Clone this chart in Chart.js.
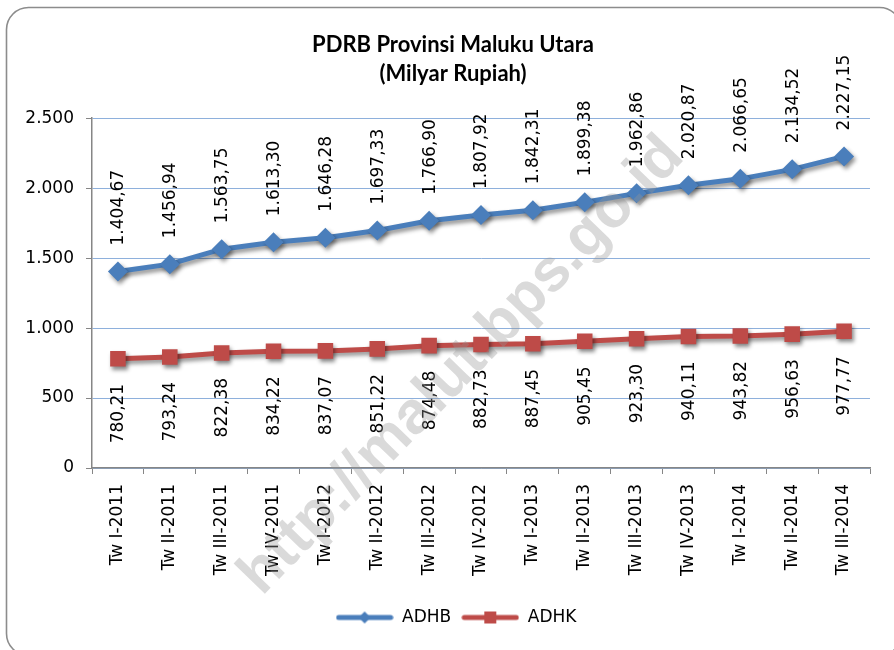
<!DOCTYPE html>
<html>
<head>
<meta charset="utf-8">
<script src="https://cdn.jsdelivr.net/npm/chart.js@4.4.0/dist/chart.umd.min.js"></script>
<style>
  html, body { margin: 0; padding: 0; background: #ffffff; }
  #wrap { width: 894px; height: 650px; }
</style>
</head>
<body>
<div id="wrap"><canvas id="chart" width="894" height="650"></canvas></div>
<script>
const labels = ['Tw I-2011', 'Tw II-2011', 'Tw III-2011', 'Tw IV-2011',
  'Tw I-2012', 'Tw II-2012', 'Tw III-2012', 'Tw IV-2012',
  'Tw I-2013', 'Tw II-2013', 'Tw III-2013', 'Tw IV-2013',
  'Tw I-2014', 'Tw II-2014', 'Tw III-2014'];
const adhb = [1404.67, 1456.94, 1563.75, 1613.30, 1646.28, 1697.33, 1766.90, 1807.92,
  1842.31, 1899.38, 1962.86, 2020.87, 2066.65, 2134.52, 2227.15];
const adhk = [780.21, 793.24, 822.38, 834.22, 837.07, 851.22, 874.48, 882.73,
  887.45, 905.45, 923.30, 940.11, 943.82, 956.63, 977.77];
const yTicks = [0, 500, 1000, 1500, 2000, 2500];

const blue = '#4a7ebb';
const red = '#be4b48';
const fontFamily = "'DejaVu Sans', Verdana, sans-serif";

// angka gaya Indonesia: 1.404,67
function fmt(v, dec) {
  var parts = v.toFixed(dec).split('.');
  parts[0] = parts[0].replace(/\B(?=(\d{3})+(?!\d))/g, '.');
  return parts.length > 1 ? parts[0] + ',' + parts[1] : parts[0];
}

function legendIcon(color, style) {
  var c = document.createElement('canvas');
  c.width = 58;
  c.height = 20;
  var ctx = c.getContext('2d');
  ctx.strokeStyle = color;
  ctx.lineWidth = 5;
  ctx.lineCap = 'round';
  ctx.beginPath();
  ctx.moveTo(3, 10);
  ctx.lineTo(55, 10);
  ctx.stroke();
  ctx.fillStyle = color;
  if (style == 'diamond') {
    ctx.beginPath();
    ctx.moveTo(29, 4);
    ctx.lineTo(35, 10);
    ctx.lineTo(29, 16);
    ctx.lineTo(23, 10);
    ctx.closePath();
    ctx.fill();
  } else {
    ctx.fillRect(23, 4, 12, 12);
  }
  return c;
}

const frame = {
  id: 'frame',
  afterLayout(chart) {
    // judul dan legenda di Excel sedikit ke kanan
    chart.titleBlock.left += 18;
    chart.titleBlock.right += 18;
    chart.legend.left += 21;
    chart.legend.right += 21;
  },
  beforeDraw(chart) {
    const ctx = chart.ctx;
    ctx.save();
    ctx.fillStyle = '#ffffff';
    ctx.fillRect(0, 0, chart.width, chart.height);
    ctx.strokeStyle = '#8c8c8c';
    ctx.lineWidth = 1.6;
    ctx.beginPath();
    ctx.roundRect(6.5, 7.5, 895, 648, 22);
    ctx.stroke();
    ctx.restore();
  }
};

const shadow = {
  id: 'shadow',
  beforeDatasetDraw(chart) {
    const ctx = chart.ctx;
    ctx.shadowColor = 'rgba(0,0,0,0.45)';
    ctx.shadowBlur = 4;
    ctx.shadowOffsetX = 2;
    ctx.shadowOffsetY = 3;
  },
  afterDatasetDraw(chart) {
    const ctx = chart.ctx;
    ctx.shadowColor = 'rgba(0,0,0,0)';
    ctx.shadowBlur = 0;
    ctx.shadowOffsetX = 0;
    ctx.shadowOffsetY = 0;
  }
};

const valueLabels = {
  id: 'valueLabels',
  afterDatasetsDraw(chart) {
    const ctx = chart.ctx;
    ctx.save();
    ctx.font = '17px ' + fontFamily;
    ctx.fillStyle = '#000000';
    ctx.textBaseline = 'middle';
    chart.data.datasets.forEach(function(ds, i) {
      const meta = chart.getDatasetMeta(i);
      meta.data.forEach(function(pt, j) {
        ctx.save();
        if (ds.labelPos == 'top') {
          ctx.translate(pt.x + 1, pt.y - 26);
          ctx.rotate(-Math.PI / 2);
          ctx.textAlign = 'left';
        } else {
          ctx.translate(pt.x + 1, pt.y + 25);
          ctx.rotate(-Math.PI / 2);
          ctx.textAlign = 'right';
        }
        ctx.fillText(fmt(ds.data[j], 2), 0, 0);
        ctx.restore();
      });
    });
    ctx.restore();
  }
};

const watermark = {
  id: 'watermark',
  afterDraw(chart) {
    const ctx = chart.ctx;
    ctx.save();
    ctx.translate(462, 366);
    ctx.rotate(-46 * Math.PI / 180);
    ctx.font = "bold 60px 'Liberation Sans', Arial, sans-serif";
    ctx.fillStyle = 'rgba(150,150,150,0.35)';
    ctx.textAlign = 'center';
    ctx.textBaseline = 'middle';
    ctx.fillText('http://malut.bps.go.id', 0, 0);
    ctx.restore();
  }
};

const data = {
  labels: labels,
  datasets: [
    {
      label: 'ADHB',
      data: adhb,
      borderColor: blue,
      backgroundColor: blue,
      borderWidth: 5,
      pointStyle: 'rectRot',
      pointRadius: 10,
      pointHoverRadius: 10,
      pointBorderWidth: 0,
      tension: 0,
      labelPos: 'top',
      icon: legendIcon(blue, 'diamond')
    },
    {
      label: 'ADHK',
      data: adhk,
      borderColor: red,
      backgroundColor: red,
      borderWidth: 5,
      pointStyle: 'rect',
      pointRadius: 11,
      pointHoverRadius: 11,
      pointBorderWidth: 0,
      tension: 0,
      labelPos: 'bottom',
      icon: legendIcon(red, 'square')
    }
  ]
};

const config = {
  type: 'line',
  data: data,
  options: {
    responsive: false,
    animation: false,
    layout: {
      padding: { left: 0, right: 24, top: 0, bottom: 14 }
    },
    plugins: {
      title: {
        display: true,
        text: ['PDRB Provinsi Maluku Utara', '(Milyar Rupiah)'],
        color: '#000000',
        font: { family: "Lato, 'Open Sans', sans-serif", size: 22, weight: 'bold', lineHeight: 1.3 },
        padding: { top: 31, bottom: 30 }
      },
      legend: {
        display: true,
        position: 'bottom',
        labels: {
          color: '#000000',
          font: { family: fontFamily, size: 17 },
          usePointStyle: true,
          pointStyleWidth: 58,
          padding: 10,
          generateLabels: function(chart) {
            return chart.data.datasets.map(function(ds, i) {
              return {
                text: ds.label,
                pointStyle: ds.icon,
                fillStyle: ds.borderColor,
                strokeStyle: ds.borderColor,
                lineWidth: 0,
                fontColor: '#000000',
                datasetIndex: i
              };
            });
          }
        }
      },
      tooltip: { enabled: false }
    },
    scales: {
      x: {
        offset: true,
        afterFit: function(scale) { scale.height = 131; },
        grid: {
          offset: true,
          drawOnChartArea: false,
          drawTicks: true,
          tickLength: 6,
          tickColor: '#868686',
          color: '#868686'
        },
        border: { color: '#868686', width: 1.5 },
        ticks: {
          color: '#000000',
          font: { family: fontFamily, size: 17 },
          minRotation: 90,
          maxRotation: 90,
          padding: 10,
          autoSkip: false
        }
      },
      y: {
        min: 0,
        max: 2500,
        afterFit: function(scale) { scale.width = 92; },
        afterBuildTicks: function(scale) {
          scale.ticks = yTicks.map(function(v) { return { value: v }; });
        },
        grid: {
          color: '#8eb0dc',
          lineWidth: 1,
          drawTicks: true,
          tickLength: 6,
          tickColor: '#868686'
        },
        border: { color: '#868686', width: 1.5 },
        ticks: {
          color: '#000000',
          font: { family: fontFamily, size: 17 },
          padding: 12,
          callback: function(v) { return fmt(v, 0); }
        }
      }
    }
  },
  plugins: [frame, shadow, valueLabels, watermark]
};

const chart = new Chart(document.getElementById('chart'), config);
</script>
</body>
</html>
